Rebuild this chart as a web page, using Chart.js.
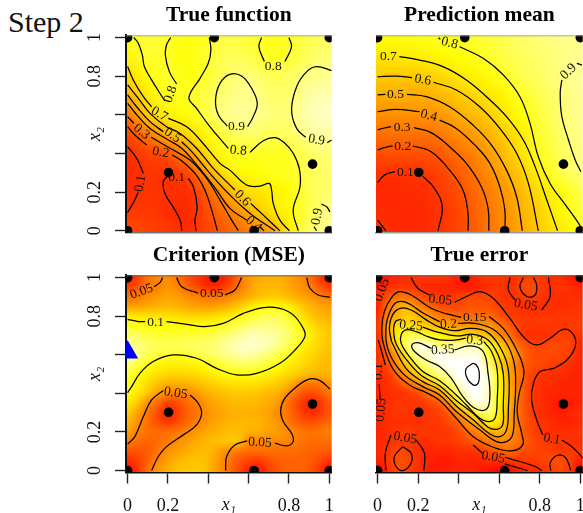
<!DOCTYPE html>
<html>
<head>
<meta charset="utf-8">
<script src="https://cdn.jsdelivr.net/npm/chart.js@4/dist/chart.umd.min.js"></script>
<style>
html, body { margin: 0; padding: 0; background: #fff; overflow: hidden; width: 583px; height: 513px; }
canvas { position: absolute; }
#step { position: absolute; left: 8px; top: 7px; font: 30px/30px "Liberation Serif"; color: #111; }
</style>
</head>
<body>
<div id="step">Step 2</div>
<canvas id="c1"></canvas>
<canvas id="c2"></canvas>
<canvas id="c3"></canvas>
<canvas id="c4"></canvas>
<script>
const tickValues = [0, 0.2, 0.4, 0.6, 0.8, 1];
const tickLabels = ['0', '0.2', '', '', '0.8', '1'];

// design points, same in all panels
const designX = [0, 0.43, 1, 0.917, 0.203, 0, 0.627, 1];
const designY = [1, 1, 1, 0.345, 0.302, 0, 0, 0];
const nextX = [0];
const nextY = [0.612];

// grids: rows go from x2=1 down to x2=0, columns from x1=0 to x1=1
const trueGrid = [
  [.78,.82,.8,.77,.8,.83,.82,.78,.8,.84,.86],
  [.73,.81,.79,.77,.81,.85,.84,.79,.81,.86,.88],
  [.64,.76,.81,.77,.81,.87,.89,.85,.86,.9,.91],
  [.5,.7,.79,.8,.84,.89,.91,.88,.87,.93,.95],
  [.31,.6,.72,.76,.84,.91,.92,.89,.88,.95,.97],
  [.16,.32,.53,.63,.76,.85,.87,.85,.86,.92,.93],
  [.08,.15,.2,.42,.67,.78,.8,.79,.8,.86,.88],
  [.07,.11,.1,.16,.48,.71,.76,.78,.79,.85,.87],
  [.07,.11,.09,.085,.24,.5,.66,.69,.76,.84,.87],
  [.12,.12,.08,.07,.19,.32,.5,.66,.74,.84,.9],
  [.18,.15,.12,.07,.15,.25,.33,.43,.7,.86,.92]
];
const predGrid = [
  [.78,.78,.79,.8,.81,.83,.85,.88,.9,.92,.93],
  [.69,.7,.72,.75,.78,.8,.84,.87,.89,.91,.93],
  [.6,.6,.6,.64,.7,.75,.8,.85,.88,.91,.94],
  [.5,.5,.5,.53,.6,.66,.73,.81,.86,.9,.93],
  [.4,.41,.41,.43,.5,.57,.66,.77,.84,.89,.93],
  [.3,.31,.31,.33,.4,.47,.58,.7,.82,.88,.92],
  [.19,.2,.2,.22,.31,.39,.52,.67,.8,.87,.91],
  [.1,.1,.11,.15,.23,.34,.45,.6,.74,.85,.9],
  [.07,.07,.08,.12,.2,.3,.4,.53,.67,.78,.85],
  [.08,.06,.07,.1,.17,.28,.38,.5,.63,.75,.83],
  [.1,.07,.07,.1,.17,.27,.37,.48,.61,.71,.8]
];
// MSE criterion x 1000, 21 x 21
const mseGrid = [
  [5,25,45,52,55,45,30,20,8,8,20,42,58,65,68,68,62,55,45,25,5],
  [25,35,45,50,58,52,38,28,18,18,28,45,60,70,72,72,65,58,50,36,22],
  [45,48,55,60,65,60,55,50,46,46,52,60,68,75,78,78,72,66,60,52,46],
  [62,63,66,70,72,70,65,62,60,64,70,78,90,97,100,100,94,82,72,66,62],
  [92,90,88,88,88,86,84,84,85,88,92,96,103,108,110,110,103,92,80,72,68],
  [104,102,101,100,100,100,100,100,99,102,106,110,114,116,116,114,110,100,90,80,75],
  [113,111,108,106,106,106,106,106,108,111,114,118,122,122,121,118,112,106,94,84,78],
  [118,115,112,110,110,110,111,112,113,116,120,123,125,124,121,116,110,100,90,82,76],
  [122,116,110,107,105,104,106,108,111,114,117,120,120,118,114,108,100,92,85,78,74],
  [115,108,103,97,94,93,94,97,101,105,109,111,111,109,105,100,93,86,80,74,72],
  [105,100,93,87,84,83,84,86,90,95,99,100,100,98,95,90,84,78,72,70,70],
  [103,96,85,75,68,68,70,74,80,84,87,88,88,86,83,78,70,53,45,47,56],
  [100,90,76,62,52,50,51,60,68,73,76,78,78,76,72,67,51,38,28,34,45],
  [90,78,53,40,25,30,42,50,60,66,70,72,72,70,66,58,42,25,12,18,34],
  [80,62,46,28,10,24,38,46,57,63,67,69,69,67,63,52,42,28,16,20,32],
  [72,56,42,30,22,30,42,50,60,66,70,72,72,70,65,57,46,36,30,34,42],
  [62,50,44,42,43,47,54,60,66,70,73,74,68,67,63,60,53,48,44,46,50],
  [48,42,38,42,47,55,62,67,72,75,77,76,53,52,52,52,51,46,43,42,42],
  [32,32,36,47,57,63,68,72,72,63,53,45,42,42,43,42,42,40,38,36,34],
  [15,24,38,52,62,70,74,76,72,60,46,34,24,22,30,36,38,38,36,28,18],
  [5,20,44,60,70,76,78,78,72,58,44,28,12,8,24,34,38,38,34,22,5]
];
// true error x 100, 21 x 21
const errGrid = [
  [1,3,4,5,6,6,6,5,3,3,5,6,6,5,6,7,6,5,5,3,1],
  [3,5,6,6,5,4,4,4,3,3,4,5,6,5,7,9,7,5,6,5,4],
  [5,9,13,13,10,7,6,6,7,8,8,8,6,5,6,7,6,5,5,5,5],
  [4,12,19,20,15,12,9,8,8,9,9,9,7,6,5,5,5,5,5,5,6],
  [5,15,20,23,21,18,14,13,12,12,12,12,9,7,6,6,6,6,6,6,6],
  [6,18,25,25,24,22,20,19,17,17,16,17,14,10,7,6,6,6,6,6,7],
  [5,17,27,31,31,30,28,26,25,25,24,21,16,13,7,5,5,5,7,7,5],
  [5,14,26,33,37,36,33,33,34,35,34,30,24,17,12,8,7,8,8,7,4],
  [5,12,18,30,35,36,38,37,37,37,37,30,25,20,14,9,8,8,8,7,4],
  [5,8,17,23,31,34,36,38,38,38,38,33,24,18,12,9,8,7,6,5,4],
  [5,6,12,18,24,30,33,35,38,39,39,35,28,19,13,8,6,5,5,4,4],
  [4,5,8,12,16,20,26,32,36,39,39,36,28,19,12,7,5,5,4,4,4],
  [4,5,5,6,8,13,16,25,33,37,38,35,28,20,13,7,5,4,4,4,4],
  [4,5,6,6,6,7,10,16,27,35,37,35,28,20,12,7,5,4,2,3,4],
  [4,5,6,6,5,6,7,10,17,23,31,33,27,18,12,7,5,4,3,4,5],
  [4,5,5,5,5,6,6,8,11,17,21,28,25,18,12,8,6,5,4,4,5],
  [4,5,6,7,6,6,6,6,8,12,15,19,20,17,12,8,6,5,5,5,6],
  [4,5,6,6,5,5,6,6,7,9,11,13,15,15,12,9,7,6,6,5,5],
  [4,6,8,7,5,4,4,4,5,5,6,9,10,12,9,8,7,7,6,6,6],
  [3,6,9,8,5,4,3,3,4,4,4,5,5,6,6,6,7,8,9,7,3],
  [0,5,8,7,5,3,3,3,4,4,3,2,0,1,4,5,5,6,8,6,0]
];

// contour pieces [x1, x2], broken where R put a label
const trueLines = [
  [[.031,1],[.053,.971],[.073,.91],[.083,.85],[.119,.781],[.16,.712],[.185,.672]],
  [[.243,.76],[.207,.824],[.187,.91],[.193,.962],[.213,1]],
  [[.405,1],[.413,.936],[.4,.867],[.359,.789],[.304,.689],[.342,.634],[.408,.539],[.499,.427]],
  [[.607,.406],[.673,.466],[.731,.482],[.78,.453],[.821,.401],[.851,.323],[.855,.228],[.821,.107],[.846,0]],
  [[.494,.542],[.45,.599],[.436,.677],[.458,.763],[.507,.81],[.565,.801],[.615,.737],[.643,.66],[.623,.591],[.595,.539]],
  [[.883,.484],[.838,.53],[.813,.625],[.838,.746],[.888,.824],[.937,.85],[1.012,.829]],
  [[.99,.456],[1.012,.47]],
  [[.664,1],[.651,.953],[.678,.876]],
  [[.78,.876],[.813,.953],[.8,1]],
  [[.962,.138],[.987,.124],[1.003,.098]],
  [[.924,.021],[.937,0]],
  [[0,.85],[.028,.781],[.078,.694],[.119,.642]],
  [[.202,.582],[.293,.539],[.367,.461],[.458,.349],[.507,.314],[.59,.237],[.656,.231],[.702,.245],[.714,.211],[.722,.142],[.755,.055],[.802,0]],
  [[0,.755],[.053,.686],[.111,.608],[.193,.539],[.26,.504],[.342,.427],[.425,.323],[.532,.211]],
  [[.61,.142],[.673,.081],[.755,0]],
  [[0,.703],[.045,.642],[.111,.565],[.177,.513]],
  [[.268,.461],[.326,.401],[.408,.297],[.507,.185],[.607,.09],[.731,0]],
  [[0,.66],[.053,.591],[.111,.53],[.202,.47],[.268,.427],[.35,.332],[.441,.211],[.507,.116],[.59,.055]],
  [[.656,.021],[.676,0]],
  [[0,.591],[.031,.556]],
  [[.117,.484],[.21,.427],[.309,.366],[.392,.271],[.458,.159],[.516,.055],[.549,0]],
  [[0,.539],[.036,.496],[.094,.444]],
  [[.221,.392],[.263,.366],[.334,.297],[.383,.211],[.417,.107],[.445,0]],
  [[0,.435],[.045,.375],[.078,.297]],
  [[.053,.202],[.036,.159],[0,.095]],
  [[.301,.271],[.326,.228],[.345,.124],[.334,.055],[.339,0]],
  [[.202,.288],[.177,.254],[.185,.193],[.235,.107],[.263,.047],[.268,0]]
];
const trueLabels = [
  ['0.8',.213,.706,-70], ['0.8',.549,.415,5], ['0.8',.722,.85,0], ['0.9',.54,.539,0],
  ['0.9',.937,.47,10], ['0.9',.94,.073,-80], ['0.7',.157,.604,30], ['0.6',.569,.168,45],
  ['0.5',.222,.494,35], ['0.4',.626,.035,40], ['0.3',.069,.513,40], ['0.2',.164,.406,10],
  ['0.1',.064,.245,-80], ['0.1',.243,.275,0]
];

const predLines = [
  [[0,.249],[.033,.288],[.086,.306]],
  [[.223,.283],[.281,.219],[.319,.124],[.298,0]],
  [[0,.055],[.041,0]],
  [[0,.418],[.033,.43],[.074,.44]],
  [[.174,.439],[.264,.409],[.355,.314],[.421,.211],[.446,.09],[.446,0]],
  [[0,.522],[.033,.532],[.066,.539]],
  [[.179,.534],[.264,.508],[.355,.435],[.438,.349],[.512,.228],[.545,.116],[.549,0]],
  [[0,.617],[.091,.629],[.207,.617]],
  [[.306,.573],[.388,.53],[.488,.435],[.554,.349],[.603,.228],[.628,.107],[.628,0]],
  [[0,.703],[.038,.706]],
  [[.145,.706],[.24,.694],[.355,.642],[.471,.547],[.562,.444],[.636,.314],[.686,.176],[.714,0]],
  [[0,.798],[.091,.801],[.17,.793]],
  [[.276,.769],[.388,.729],[.504,.642],[.603,.53],[.686,.401],[.744,.245],[.793,0]],
  [[.107,.902],[.207,.884],[.322,.85],[.438,.781],[.537,.694],[.636,.591],[.719,.47],[.777,.332],[.835,.159],[.888,0]],
  [[.301,1],[.309,.991]],
  [[.405,.953],[.521,.893],[.62,.807],[.702,.694],[.752,.556],[.793,.383],[.851,.245],[.934,.124],[.992,.038],[1.01,0]],
  [[.909,.781],[.901,.712],[.909,.591],[.942,.47],[.975,.366],[1.003,.306]],
  [[.983,.867],[1.008,.858]]
];
const predLabels = [
  ['0.7',.053,.902,0], ['0.6',.223,.781,10], ['0.5',.088,.708,0], ['0.4',.253,.596,15],
  ['0.3',.121,.535,0], ['0.2',.124,.439,0], ['0.1',.137,.302,0], ['0.8',.355,.971,15], ['0.9',.942,.824,-45]
];

const mseLines = [
  [[.174,1],[.16,.974],[.132,.953]],
  [[.243,1],[.268,.953],[.35,.919]],
  [[.483,.91],[.532,.936],[.565,1]],
  [[.888,1],[.904,.945],[.945,.91],[1.003,.898]],
  [[0,.784],[.053,.772],[.086,.772]],
  [[.193,.772],[.293,.758],[.383,.746],[.474,.763],[.574,.815],[.673,.845],[.755,.841],[.821,.807],[.871,.737],[.879,.694],[.838,.634],[.755,.556],[.64,.504],[.54,.496],[.441,.53],[.342,.582],[.226,.599],[.127,.565],[.061,.504],[.02,.435],[0,.404]],
  [[0,.138],[.036,.176],[.078,.28],[.119,.366],[.177,.415]],
  [[.309,.392],[.35,.349],[.367,.297],[.342,.237],[.276,.185],[.193,.124],[.152,.073],[.119,0]],
  [[1.003,.423],[.954,.466],[.904,.475],[.838,.435],[.78,.375],[.759,.314],[.772,.254],[.813,.193],[.821,.15],[.788,.128],[.731,.142]],
  [[.593,.154],[.532,.133],[.491,.073],[.486,0]]
];
const mseLabels = [
  ['0.05',.069,.927,-20], ['0.05',.417,.919,0], ['0.1',.139,.767,0], ['0.05',.238,.401,8], ['0.05',.656,.145,3]
];

const errLines = [
  [[.55,.798],[.62,.737],[.686,.625],[.722,.513],[.699,.401],[.689,.297],[.711,.193],[.716,.133],[.661,.102],[.57,.121],[.471,.176],[.388,.271],[.306,.363],[.24,.404],[.157,.444],[.074,.53],[.028,.66],[.021,.743],[.033,.824],[.066,.893],[.107,.927],[.174,.905],[.264,.841],[.342,.812],[.413,.794]],
  [[.397,.763],[.479,.763],[.57,.732],[.636,.66],[.674,.556],[.681,.435],[.674,.297],[.666,.185],[.636,.15],[.587,.15],[.504,.211],[.388,.306],[.306,.392],[.223,.435],[.124,.504],[.055,.617],[.041,.737],[.061,.824],[.094,.872],[.144,.87],[.226,.815],[.306,.772]],
  [[.069,.668],[.058,.737],[.074,.807],[.111,.841],[.165,.832],[.24,.781],[.306,.743],[.38,.725],[.455,.737],[.537,.72],[.603,.642],[.645,.522],[.645,.314],[.636,.211],[.603,.176],[.554,.19],[.471,.263],[.388,.335],[.306,.418],[.223,.461],[.14,.53],[.069,.668]],
  [[.223,.743],[.306,.715],[.388,.698],[.471,.706],[.545,.677],[.595,.599],[.62,.504],[.62,.332],[.617,.237],[.587,.214],[.545,.225],[.471,.297],[.388,.363],[.306,.44],[.223,.487],[.157,.556],[.094,.651],[.079,.72],[.088,.772],[.116,.784]],
  [[.524,.668],[.562,.617],[.59,.522],[.59,.366],[.579,.271],[.545,.254],[.504,.271],[.438,.34],[.388,.392],[.306,.466],[.223,.513],[.157,.591],[.116,.66],[.116,.703],[.14,.729],[.19,.72],[.248,.694],[.306,.677],[.388,.677],[.435,.686]],
  [[.38,.625],[.455,.646],[.521,.617],[.545,.504],[.554,.383],[.537,.318],[.479,.323],[.421,.383],[.364,.478],[.306,.539],[.24,.573],[.182,.617],[.169,.651],[.198,.663],[.264,.634]],
  [[.471,.556],[.438,.53],[.438,.487],[.471,.444],[.496,.452],[.501,.513],[.488,.547],[.471,.556]],
  [[.165,1],[.198,.945],[.256,.91]],
  [[.38,.872],[.455,.91],[.504,.927],[.57,.893],[.653,.789],[.719,.694],[.785,.651],[.851,.686],[.917,.732],[.967,.703],[.975,.642],[.934,.573],[.868,.53],[.802,.513],[.769,.452],[.76,.366],[.785,.263],[.815,.185]],
  [[.909,.159],[.967,.116],[1.013,.064]],
  [[.653,1],[.645,.936],[.678,.884]],
  [[.81,.832],[.851,.902],[.843,1]],
  [[.719,1],[.702,.953],[.736,.902],[.777,.91],[.785,.962],[.769,1]],
  [[.041,0],[.038,.09],[.066,.185]],
  [[.19,.159],[.231,.09],[.228,0]],
  [[.124,.124],[.083,.073],[.091,.021],[.124,0],[.165,.038],[.165,.09],[.124,.124]],
  [[.855,0],[.851,.038],[.884,.078],[.926,.069],[.954,0]],
  [[.471,.133],[.517,.09]],
  [[.628,.069],[.702,.047],[.777,.021],[.81,0]],
  [[.628,.035],[.69,.015],[.74,0]],
  [[.003,.677],[.025,.599],[.038,.547]],
  [[.008,.449],[.012,.366]]
];
const errLabels = [
  ['0.05',.021,.936,-70], ['0.05',.309,.884,5], ['0.05',.731,.858,10], ['0.15',.479,.794,0],
  ['0.2',.35,.758,-3], ['0.25',.165,.751,5], ['0.3',.479,.674,5], ['0.35',.322,.625,-3],
  ['0.1',.003,.513,-90], ['0.05',.017,.314,-85], ['0.05',.136,.168,10], ['0.05',.57,.069,10], ['0.1',.86,.164,10]
];

const serif = '"Liberation Serif", "Times New Roman", serif';

// same ramp as R heat.colors
function heatColor(t) {
  t = Math.max(0, Math.min(1, t));
  const g = Math.min(1, t / 0.75) * 255;
  const b = Math.max(0, (t - 0.75) / 0.25) * 255;
  return [255, g, b];
}

const heatPlugin = {
  id: 'heat',
  beforeDraw(chart, args, opts) {
    const cells = chart.data.datasets[0].data;
    const n = Math.round(Math.sqrt(cells.length));
    const off = document.createElement('canvas');
    off.width = n;
    off.height = n;
    const octx = off.getContext('2d');
    const img = octx.createImageData(n, n);
    cells.forEach((c, i) => {
      const col = heatColor((c.z - opts.zMin) / (opts.zMax - opts.zMin));
      img.data[i * 4] = col[0];
      img.data[i * 4 + 1] = col[1];
      img.data[i * 4 + 2] = col[2];
      img.data[i * 4 + 3] = 255;
    });
    octx.putImageData(img, 0, 0);
    const a = chart.chartArea;
    const xs = chart.scales.x;
    const ys = chart.scales.y;
    const stepX = (xs.getPixelForValue(1) - xs.getPixelForValue(0)) / (n - 1);
    const stepY = (ys.getPixelForValue(0) - ys.getPixelForValue(1)) / (n - 1);
    const ctx = chart.ctx;
    ctx.save();
    ctx.beginPath();
    ctx.rect(a.left, a.top, a.width, a.height);
    ctx.clip();
    ctx.imageSmoothingEnabled = true;
    ctx.imageSmoothingQuality = 'high';
    ctx.drawImage(off, xs.getPixelForValue(0) - stepX / 2, ys.getPixelForValue(1) - stepY / 2, stepX * n, stepY * n);
    ctx.restore();
  }
};

const labelPlugin = {
  id: 'contourLabels',
  afterDatasetsDraw(chart, args, opts) {
    const a = chart.chartArea;
    const ctx = chart.ctx;
    ctx.save();
    ctx.beginPath();
    ctx.rect(a.left, a.top, a.width, a.height);
    ctx.clip();
    ctx.font = '13.5px ' + serif;
    ctx.fillStyle = '#111';
    ctx.textAlign = 'center';
    ctx.textBaseline = 'middle';
    opts.items.forEach(l => {
      ctx.save();
      ctx.translate(chart.scales.x.getPixelForValue(l[1]), chart.scales.y.getPixelForValue(l[2]));
      ctx.rotate(l[3] * Math.PI / 180);
      ctx.fillText(l[0], 0, 0);
      ctx.restore();
    });
    // thin frame line along the top of the image
    ctx.strokeStyle = opts.topColor;
    ctx.lineWidth = 1;
    ctx.beginPath();
    ctx.moveTo(a.left, a.top + 0.5);
    ctx.lineTo(a.right, a.top + 0.5);
    ctx.stroke();
    ctx.restore();
  }
};

// stop the tick labels from pulling the plot area in
function noOverhang(s) {
  s.paddingLeft = 0;
  s.paddingRight = 0;
  s.paddingTop = 0;
  s.paddingBottom = 0;
}

function makePanel(id, cfg) {
  const cv = document.getElementById(id);
  cv.width = cfg.w;
  cv.height = cfg.h;
  cv.style.left = cfg.left + 'px';
  cv.style.top = cfg.top + 'px';

  const n = cfg.grid.length;
  const cells = [];
  cfg.grid.forEach((row, r) => row.forEach((z, c) => cells.push({x: c / (n - 1), y: 1 - r / (n - 1), z: z})));

  const datasets = [{label: 'surface', data: cells, pointRadius: 0, showLine: false}];
  cfg.lines.forEach(line => datasets.push({
    data: line.map(p => ({x: p[0], y: p[1]})),
    showLine: true, pointRadius: 0, borderColor: '#000', borderWidth: 1.25, tension: 0.4, clip: 0
  }));
  datasets.push({
    data: designX.map((x, i) => ({x: x, y: designY[i]})),
    pointRadius: 4.8, pointBackgroundColor: '#000', pointBorderWidth: 0, showLine: false, clip: 0
  });
  if (cfg.next) {
    datasets.push({
      data: nextX.map((x, i) => ({x: x, y: nextY[i]})),
      pointStyle: 'triangle', pointRadius: 12.2, pointBackgroundColor: '#0000ff', pointBorderWidth: 0, showLine: false, clip: 0
    });
  }

  new Chart(cv, {
    type: 'scatter',
    data: {datasets: datasets},
    options: {
      responsive: false,
      animation: false,
      events: [],
      plugins: {
        legend: {display: false},
        tooltip: {enabled: false},
        title: {
          display: true, text: cfg.title, color: '#000', fullSize: false,
          font: {family: serif, size: 21.5, weight: 'bold', lineHeight: 1.2},
          padding: {top: 2.1, bottom: 7.4}
        },
        heat: {zMin: cfg.zMin, zMax: cfg.zMax},
        contourLabels: {items: cfg.labels, topColor: cfg.topColor}
      },
      scales: {
        x: {
          type: 'linear', min: -0.008, max: 1.012,
          afterBuildTicks: s => { s.ticks = tickValues.map(v => ({value: v})); },
          afterFit: s => { s.height = cfg.axisH; noOverhang(s); },
          grid: {drawOnChartArea: false, drawTicks: cfg.showX, tickLength: 11, tickWidth: 1.4, tickColor: '#222'},
          border: {display: true, color: cfg.bottomColor, width: 1.6},
          ticks: {
            display: cfg.showX, autoSkip: false, maxRotation: 0, color: '#111', padding: 12,
            font: {family: serif, size: 18},
            callback: (v, i) => tickLabels[i]
          },
          title: {
            display: cfg.showX, text: 'x\u2081', color: '#111',
            font: {family: serif, size: 18, style: 'italic'},
            padding: {top: 0, bottom: 14.2}
          }
        },
        y: {
          type: 'linear', min: -0.01, max: 1.012,
          afterBuildTicks: s => { s.ticks = tickValues.map(v => ({value: v})); },
          afterFit: s => { s.width = cfg.axisW; noOverhang(s); },
          grid: {drawOnChartArea: false, drawTicks: cfg.showY, tickLength: 11, tickWidth: 1.4, tickColor: '#222'},
          border: {display: cfg.showY, color: '#111', width: 2},
          ticks: {
            display: cfg.showY, autoSkip: false, minRotation: 90, maxRotation: 90, crossAlign: 'center',
            color: '#111', padding: 8.7,
            font: {family: serif, size: 18},
            callback: (v, i) => tickLabels[i]
          },
          title: {
            display: cfg.showY, text: 'x\u2082', color: '#111',
            font: {family: serif, size: 18, style: 'italic'},
            padding: {top: 14.2, bottom: 0}
          }
        }
      },
      layout: {autoPadding: false, padding: {left: 0, top: 0, right: cfg.padR, bottom: 0}}
    },
    plugins: [heatPlugin, labelPlugin]
  });
}

makePanel('c1', {left: 70, top: 0, w: 265, h: 240, axisW: 56, axisH: 7.3, padR: 3.3, showX: false, showY: true,
  title: 'True function', grid: trueGrid, lines: trueLines, labels: trueLabels, zMin: -0.06, zMax: 1.03, bottomColor: '#777', topColor: '#999'});
makePanel('c2', {left: 340, top: 0, w: 243, h: 240, axisW: 36, axisH: 7.3, padR: 0.3, showX: false, showY: false,
  title: 'Prediction mean', grid: predGrid, lines: predLines, labels: predLabels, zMin: -0.06, zMax: 1.05, bottomColor: '#999', topColor: '#999'});
makePanel('c3', {left: 70, top: 240, w: 265, h: 290, axisW: 56, axisH: 57.5, padR: 3.3, showX: true, showY: true, next: true,
  title: 'Criterion (MSE)', grid: mseGrid, lines: mseLines, labels: mseLabels, zMin: 0, zMax: 132, bottomColor: '#111', topColor: '#555'});
makePanel('c4', {left: 340, top: 240, w: 243, h: 290, axisW: 36, axisH: 57.5, padR: 0.3, showX: true, showY: false,
  title: 'True error', grid: errGrid, lines: errLines, labels: errLabels, zMin: 0, zMax: 38, bottomColor: '#111', topColor: '#555'});
</script>
</body>
</html>
